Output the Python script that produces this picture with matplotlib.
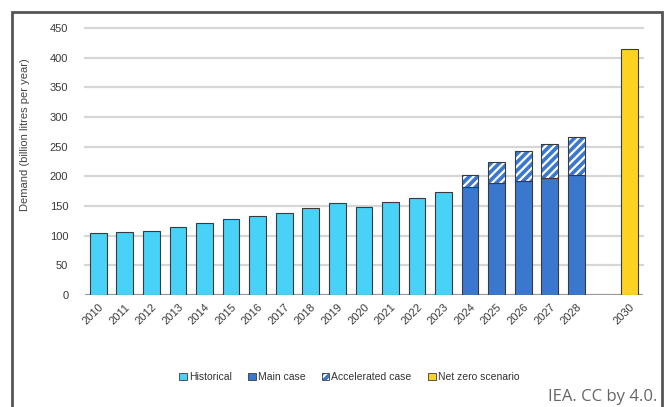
import numpy as np
import matplotlib.pyplot as plt
from matplotlib.patches import Patch, Rectangle

plt.rcParams['font.family'] = ['Liberation Sans Narrow', 'Liberation Sans', 'DejaVu Sans']
plt.rcParams['hatch.linewidth'] = 1.6

# Data
hist_years = ['2010', '2011', '2012', '2013', '2014', '2015', '2016', '2017',
              '2018', '2019', '2020', '2021', '2022', '2023']
hist_vals = [105, 107, 108, 114, 122, 129, 134, 138, 147, 156, 149, 157, 163, 173]

fc_years = ['2024', '2025', '2026', '2027', '2028']
main_vals = [182, 189, 192, 197, 202]
accel_vals = [203, 225, 243, 255, 267]

nz_year = '2030'
nz_val = 414

c_hist = '#48D2F7'
c_main = '#3A78D0'
c_nz = '#FDD321'
c_edge = '#3a3a3a'

fig = plt.figure(figsize=(6.64, 4.07), dpi=100)
ax = fig.add_axes([0.128, 0.275, 0.840, 0.656])

x_hist = np.arange(len(hist_years))
x_fc = np.arange(len(fc_years)) + len(hist_years)
x_nz = len(hist_years) + len(fc_years) + 1
w = 0.63

# grid lines
for v in range(50, 451, 50):
    ax.axhline(v, color='#d6d6d6', lw=1.6, zorder=0, clip_on=False)
ax.axhline(0, color='#9a9a9a', lw=1.6, zorder=1)

ax.bar(x_hist, hist_vals, w, color=c_hist, edgecolor=c_edge, lw=0.8, zorder=2)
ax.bar(x_fc, main_vals, w, color=c_main, edgecolor=c_edge, lw=0.8, zorder=2)
extra = np.array(accel_vals) - np.array(main_vals)
ax.bar(x_fc, extra, w, bottom=main_vals, color=c_main, edgecolor='white',
       hatch='////', lw=0, zorder=2)
ax.bar(x_fc, extra, w, bottom=main_vals, color='none', edgecolor=c_edge,
       lw=0.8, zorder=3)
ax.bar([x_nz], [nz_val], w, color=c_nz, edgecolor=c_edge, lw=0.8, zorder=2)

ax.set_xlim(-0.5, x_nz + 0.5)
ax.set_ylim(0, 450)
ax.set_yticks(range(0, 451, 50))
ax.set_xticks(list(x_hist) + list(x_fc) + [x_nz])
ax.set_xticklabels(hist_years + fc_years + [nz_year], rotation=45,
                   ha='right', rotation_mode='anchor')
ax.tick_params(axis='both', length=0, labelsize=8, colors='#3a3a3a')
ax.tick_params(axis='y', pad=12)
ax.tick_params(axis='x', pad=5)
for s in ax.spines.values():
    s.set_visible(False)

ax.set_ylabel('Demand (billion litres per year)', fontsize=8, color='#444444')
ax.yaxis.set_label_coords(-0.098, 0.6)

accel_handle = (
    Patch(facecolor=c_main, edgecolor='white', hatch='////', lw=0),
    Patch(facecolor='none', edgecolor=c_edge, lw=0.6),
)
handles = [
    Patch(facecolor=c_hist, edgecolor=c_edge, lw=0.6),
    Patch(facecolor=c_main, edgecolor=c_edge, lw=0.6),
    accel_handle,
    Patch(facecolor=c_nz, edgecolor=c_edge, lw=0.6),
]
labels = ['Historical', 'Main case', 'Accelerated case', 'Net zero scenario']
fig.legend(handles, labels, loc='center', bbox_to_anchor=(0.526, 0.074), ncol=4,
           frameon=False, fontsize=7.5, handlelength=0.7, handleheight=0.7,
           handletextpad=0.2, columnspacing=1.6, labelcolor='#333333')

# outer frame (bottom cut off)
fig.patches.append(Rectangle((12 / 664, -0.05), 650 / 664, 1.05 - 12 / 407,
                             transform=fig.transFigure, fill=False,
                             edgecolor='#555555', lw=2))

fig.text(0.99, 0.005, 'IEA. CC by 4.0.', ha='right', va='bottom', fontsize=12,
         color='#666666', family='Open Sans')

fig.savefig('out.png', dpi=100)
